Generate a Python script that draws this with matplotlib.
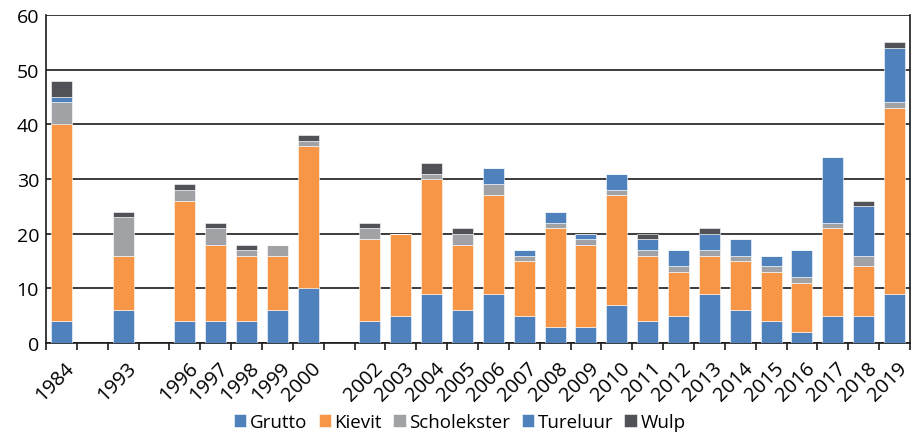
import matplotlib
matplotlib.use("Agg")
import matplotlib.pyplot as plt
import matplotlib.transforms as mtransforms
import numpy as np

plt.rcParams['font.family'] = ['Open Sans', 'DejaVu Sans']

# Slots (empty string = blank slot in the axis)
years = ["1984", "", "1993", "", "1996", "1997", "1998", "1999", "2000", "",
         "2002", "2003", "2004", "2005", "2006", "2007", "2008", "2009", "2010",
         "2011", "2012", "2013", "2014", "2015", "2016", "2017", "2018", "2019"]

grutto      = [4, 0, 6, 0, 4, 4, 4, 6, 10, 0, 4, 5, 9, 6, 9, 5, 3, 3, 7, 4, 5, 9, 6, 4, 2, 5, 5, 9]
kievit      = [36, 0, 10, 0, 22, 14, 12, 10, 26, 0, 15, 15, 21, 12, 18, 10, 18, 15, 20, 12, 8, 7, 9, 9, 9, 16, 9, 34]
scholekster = [4, 0, 7, 0, 2, 3, 1, 2, 1, 0, 2, 0, 1, 2, 2, 1, 1, 1, 1, 1, 1, 1, 1, 1, 1, 1, 2, 1]
tureluur    = [1, 0, 0, 0, 0, 0, 0, 0, 0, 0, 0, 0, 0, 0, 3, 1, 2, 1, 3, 2, 3, 3, 3, 2, 5, 12, 9, 10]
wulp        = [3, 0, 1, 0, 1, 1, 1, 0, 1, 0, 1, 0, 2, 1, 0, 0, 0, 0, 0, 1, 0, 1, 0, 0, 0, 0, 1, 1]

series = [("Grutto", grutto, "#4F81BD"),
          ("Kievit", kievit, "#F79646"),
          ("Scholekster", scholekster, "#A0A2A5"),
          ("Tureluur", tureluur, "#4F81BD"),
          ("Wulp", wulp, "#505257")]

fig = plt.figure(figsize=(9.14, 4.35), dpi=100)
ax = fig.add_axes([0.0503, 0.2092, 0.9453, 0.754])

x = np.arange(len(years))
bottom = np.zeros(len(years))
for name, vals, col in series:
    v = np.array(vals, dtype=float)
    ax.bar(x, v, bottom=bottom, width=0.68, color=col, label=name,
           edgecolor="white", linewidth=0.4, zorder=3)
    bottom += v

ax.set_xlim(-0.5, len(years) - 0.5)
ax.set_ylim(0, 60)
ax.set_yticks(range(0, 61, 10))
ax.yaxis.grid(True, color="#1a1a1a", linewidth=1.2, zorder=0)
ax.set_axisbelow(True)

# category boundary ticks
ax.set_xticks(np.arange(-0.5, len(years), 1.0))
ax.set_xticklabels([])
ax.tick_params(axis='x', which='major', length=5, width=1.2, direction='out', color="#1a1a1a")
ax.set_xticks(x, minor=True)
ax.set_xticklabels(years, minor=True, rotation=45, ha='right', va='center',
                   rotation_mode='anchor', fontsize=14.5)
ax.tick_params(axis='x', which='minor', length=0, pad=16)
ax.tick_params(axis='y', length=0, labelsize=14, pad=5)
shift = mtransforms.ScaledTranslation(0.10, 0.0, fig.dpi_scale_trans)
for lab in ax.get_xticklabels(minor=True):
    lab.set_transform(lab.get_transform() + shift)

for s in ["left", "bottom", "right"]:
    ax.spines[s].set_color("#1a1a1a")
    ax.spines[s].set_linewidth(1.2)
ax.spines["top"].set_visible(False)

fig.legend(*ax.get_legend_handles_labels(), loc="center", bbox_to_anchor=(0.503, 0.027),
           ncol=5, frameon=False, fontsize=13.5, handlelength=0.65, handleheight=0.65,
           handletextpad=0.2, columnspacing=0.6, borderpad=0.1)

fig.savefig("out.png", dpi=100)
